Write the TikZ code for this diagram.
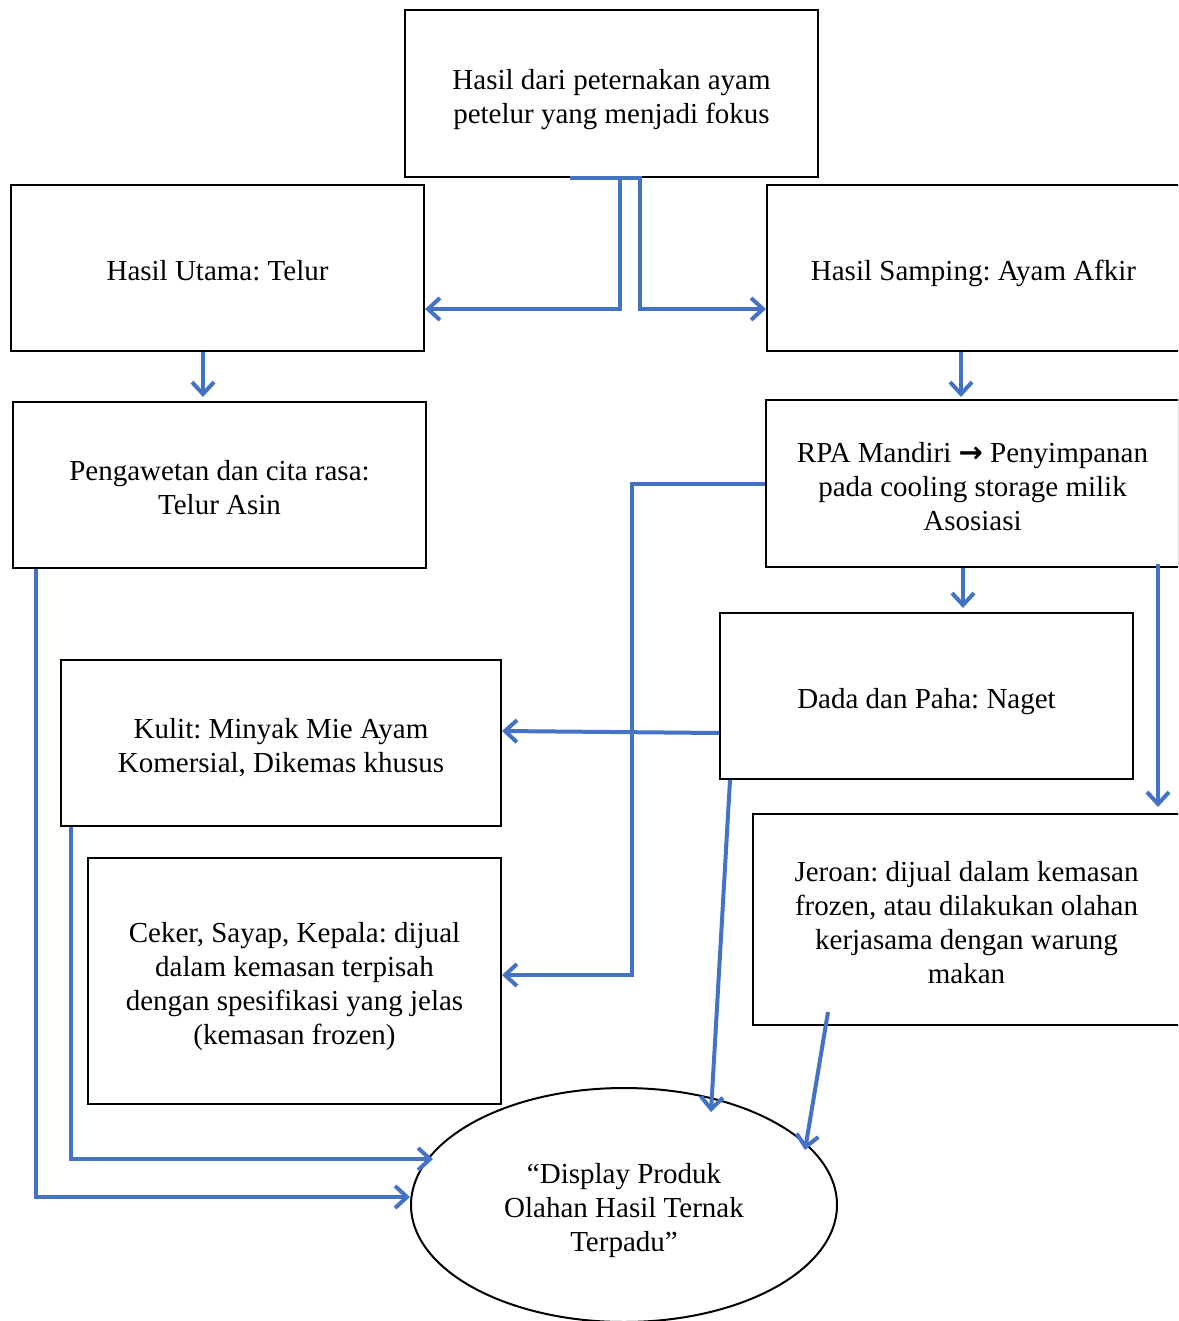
\documentclass[tikz,border=0pt]{standalone}
\usepackage{fontspec}
\setmainfont{Liberation Serif}
\newfontfamily\arrowfont{DejaVu Sans}
\usetikzlibrary{arrows.meta,shapes.geometric}
\definecolor{conblue}{HTML}{4472C4}
\frenchspacing
\newcommand\boxtext[1]{\raisebox{-6pt}[\height][\depth]{\begin{tabular}{@{}c@{}}#1\end{tabular}}}
\tikzset{
  box/.style={draw=black, line width=2pt, rectangle, align=center,
    font=\fontsize{29}{34}\selectfont, inner sep=0pt},
  oval/.style={draw=black, line width=2pt, ellipse, align=center,
    font=\fontsize{29}{34}\selectfont, inner sep=0pt},
  conn/.style={draw=conblue, line width=4pt},
  arr/.style={conn, -{Straight Barb[length=12pt,width=22pt]}}
}
\begin{document}
\begin{tikzpicture}[x=1pt,y=-1pt]
\useasboundingbox (0,0) rectangle (1178,1321);
\clip (0,0) rectangle (1178,1321);
\fill[white] (0,0) rectangle (1178,1321);

\node[box, minimum width=413pt, minimum height=167pt] (top) at (611.5,93.5)
  {\boxtext{Hasil dari peternakan ayam\\petelur yang menjadi fokus}};
\node[box, minimum width=413pt, minimum height=166pt] (utama) at (217.5,268)
  {\boxtext{Hasil Utama: Telur}};
\node[box, minimum width=413pt, minimum height=166pt] (samping) at (973.5,268)
  {\boxtext{Hasil Samping: Ayam Afkir}};
\node[box, minimum width=413pt, minimum height=166pt] (peng) at (219.5,485)
  {\boxtext{Pengawetan dan cita rasa:\\Telur Asin}};
\node[box, minimum width=413pt, minimum height=167pt] (rpa) at (972.5,483.5)
  {\boxtext{RPA Mandiri {\arrowfont\bfseries →} Penyimpanan\\pada cooling storage milik\\Asosiasi}};
\node[box, minimum width=413pt, minimum height=166pt] (dada) at (926.5,696)
  {\boxtext{Dada dan Paha: Naget}};
\node[box, minimum width=440pt, minimum height=166pt] (kulit) at (281,743)
  {\boxtext{Kulit: Minyak Mie Ayam\\Komersial, Dikemas khusus}};
\node[box, minimum width=413pt, minimum height=246pt] (ceker) at (294.5,981)
  {\boxtext{Ceker, Sayap, Kepala: dijual\\dalam kemasan terpisah\\dengan spesifikasi yang jelas\\(kemasan frozen)}};
\node[box, minimum width=427pt, minimum height=211pt] (jeroan) at (966.5,919.5)
  {\boxtext{Jeroan: dijual dalam kemasan\\frozen, atau dilakukan olahan\\kerjasama dengan warung\\makan}};
\node[oval, minimum width=426pt, minimum height=234pt] (disp) at (624,1205)
  {\boxtext{“Display Produk\\Olahan Hasil Ternak\\Terpadu”}};

\coordinate (e1) at (711,1112);
\coordinate (e2) at (805,1150);
\coordinate (e3) at (433,1159);

% top splits
\draw[conn] ([xshift=-41.5pt]top.south) -- ([xshift=30pt]top.south);
\draw[arr] ([xshift=8.5pt]top.south) |- ([yshift=-41pt]utama.east);
\draw[arr] ([xshift=28.5pt]top.south) |- ([yshift=-41pt]samping.west);
% verticals
\draw[arr] ([xshift=-14.5pt]utama.south) -- ([xshift=-14.5pt,yshift=4pt]utama.south |- peng.north);
\draw[arr] ([xshift=-12.5pt]samping.south) -- ([xshift=-12.5pt,yshift=2pt]samping.south |- rpa.north);
\draw[arr] ([xshift=-9.5pt]rpa.south) -- ([xshift=-9.5pt,yshift=4pt]rpa.south |- dada.north);
\draw[arr] ([xshift=185.5pt,yshift=4pt]rpa.south) -- ([xshift=185.5pt,yshift=6pt]rpa.south |- jeroan.north);
% rpa to ceker
\draw[arr] (rpa.west) -- ++(-133,0) |- ([yshift=6pt]ceker.east);
% dada to kulit
\draw[arr] ([yshift=-37pt]dada.west) -- ([yshift=12pt]kulit.east);
% to display
\draw[arr] ([xshift=-196.5pt]dada.south) -- (e1);
\draw[arr] ([xshift=-138.5pt,yshift=14pt]jeroan.south) -- (e2);
\draw[arr] ([xshift=-183.5pt]peng.south) |- ([yshift=8pt]disp.west);
\draw[arr] ([xshift=-210pt]kulit.south) |- (e3);
\end{tikzpicture}
\end{document}
